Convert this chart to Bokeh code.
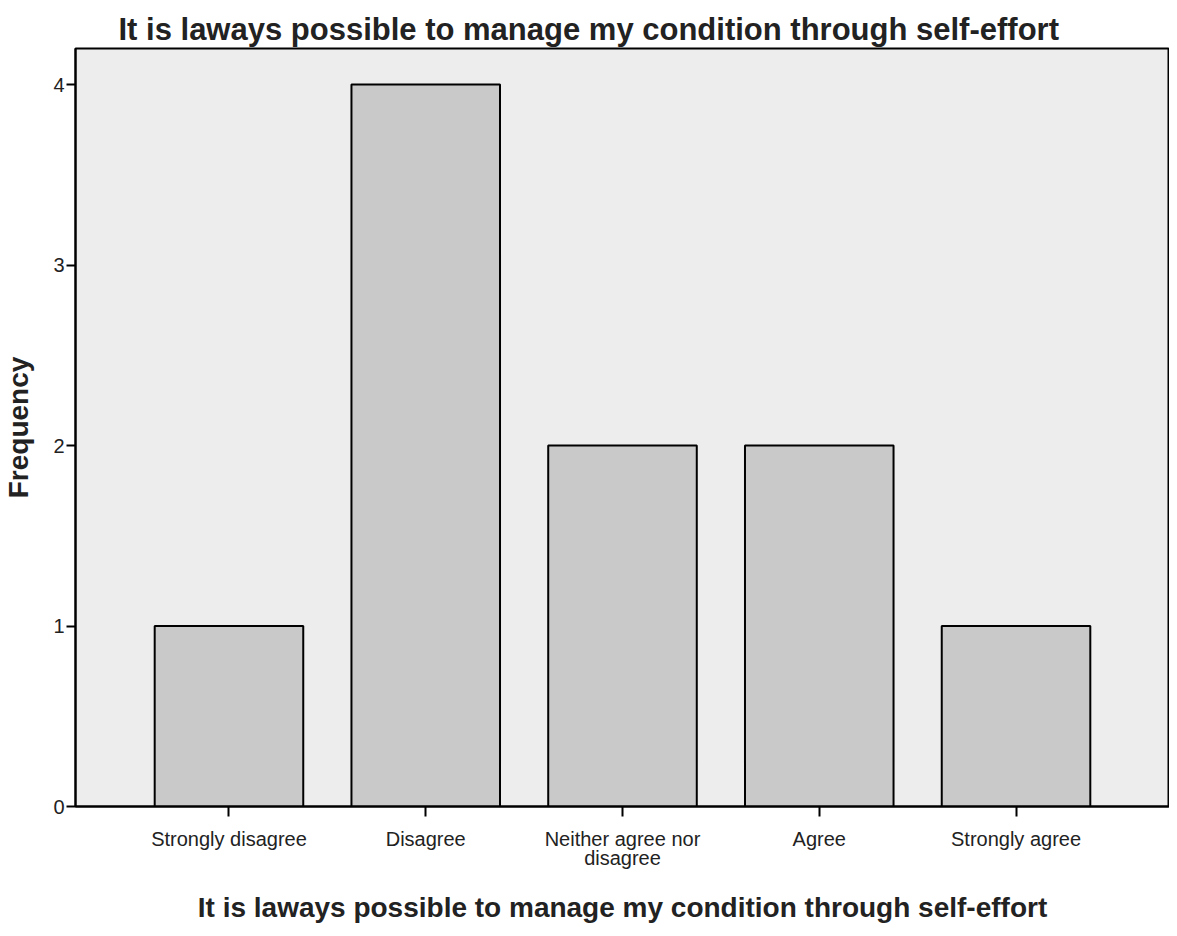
from bokeh.plotting import figure
from bokeh.models import FactorRange, Range1d, ColumnDataSource, FixedTicker
from bokeh.embed import file_html
from bokeh.resources import INLINE

categories = ["Strongly disagree", "Disagree", "Neither agree nor\ndisagree", "Agree", "Strongly agree"]
frequency = [1, 4, 2, 2, 1]
y_ticks = [0, 1, 2, 3, 4]
title_text = "It is laways possible to manage my condition through self-effort"

src = ColumnDataSource(dict(cat=categories, freq=frequency))

p = figure(
    x_range=FactorRange(factors=categories, range_padding=0.28, range_padding_units="absolute"),
    y_range=Range1d(0, 4.2),
    width=1169, height=926,
    output_backend="svg", toolbar_location=None,
    min_border_left=69, min_border_right=0, min_border_top=48, min_border_bottom=100,
    background_fill_color="#ededed", border_fill_color="white",
)

p.vbar(x="cat", top="freq", width=0.755, source=src,
       fill_color="#c9c9c9", line_color="black", line_width=2)

p.title.text = title_text
p.title.text_font = "Liberation Sans"
p.title.text_font_size = "31px"
p.title.text_font_style = "bold"
p.title.text_color = "#222222"
p.title.align = "left"
p.title.offset = 43
p.title.standoff = 4

p.outline_line_color = "black"
p.outline_line_width = 2
p.xgrid.visible = False
p.ygrid.visible = False

p.yaxis.ticker = FixedTicker(ticks=y_ticks)
p.yaxis.minor_tick_line_color = None
p.yaxis.major_tick_out = 9
p.yaxis.major_tick_in = 0
p.yaxis.major_tick_line_width = 2
p.yaxis.axis_line_width = 2
p.yaxis.major_label_text_font = "Liberation Sans"
p.yaxis.major_label_text_font_size = "20px"
p.yaxis.major_label_text_color = "#222222"
p.yaxis.major_label_standoff = 2
p.yaxis.axis_label = "Frequency"
p.yaxis.axis_label_text_font = "Liberation Sans"
p.yaxis.axis_label_text_font_size = "28px"
p.yaxis.axis_label_text_font_style = "bold"
p.yaxis.axis_label_text_color = "#222222"
p.yaxis.axis_label_standoff = 16

p.xaxis.major_tick_out = 10
p.xaxis.major_tick_in = 0
p.xaxis.major_tick_line_width = 2
p.xaxis.axis_line_width = 2
p.xaxis.major_label_text_font = "Liberation Sans"
p.xaxis.major_label_text_font_size = "20px"
p.xaxis.major_label_text_color = "#222222"
p.xaxis.major_label_text_line_height = 0.9
p.xaxis.major_label_standoff = 11
p.xaxis.axis_label = title_text
p.xaxis.axis_label_text_font = "Liberation Sans"
p.xaxis.axis_label_text_font_size = "28px"
p.xaxis.axis_label_text_font_style = "bold"
p.xaxis.axis_label_text_color = "#222222"
p.xaxis.axis_label_standoff = 20

open("out.html", "w").write(file_html(p, INLINE))
